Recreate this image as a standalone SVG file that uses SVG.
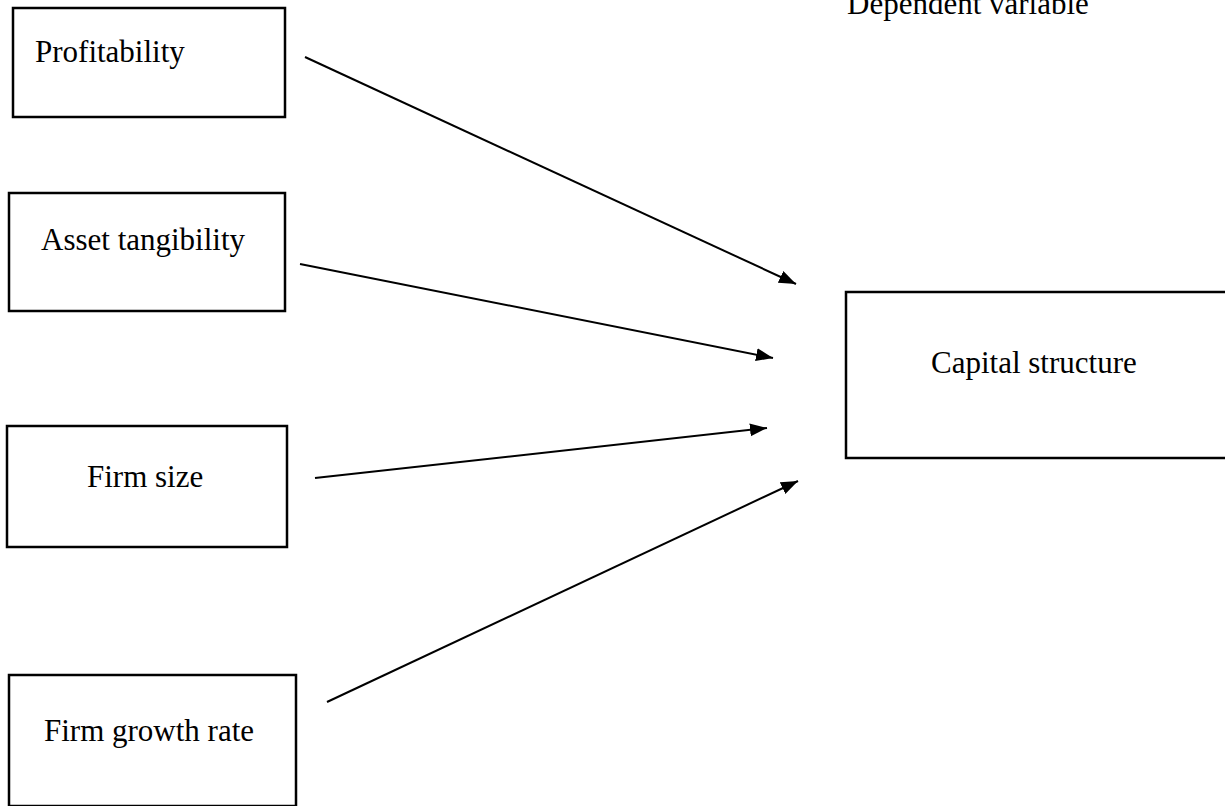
<svg xmlns="http://www.w3.org/2000/svg" width="1225" height="806" viewBox="0 0 1225 806">
<style>
.box{fill:#fff;stroke:#000;stroke-width:2.5}
.lbl{font-family:"Liberation Serif","Times New Roman",serif;font-size:31px;fill:#000}
.edge{stroke:#000;stroke-width:2;fill:none}
</style>
<defs>
<marker id="ah" markerUnits="userSpaceOnUse" markerWidth="18" markerHeight="14" refX="17" refY="6.5" orient="auto">
<path d="M0,0 L17,6.5 L0,13 Z" fill="#000"/>
</marker>
</defs>
<rect width="1225" height="806" fill="#fff"/>
<text class="lbl" x="847" y="14">Dependent variable</text>
<g id="profitability">
<rect class="box" x="13" y="8" width="272" height="109"/>
<text class="lbl" x="35" y="62">Profitability</text>
</g>
<g id="asset-tangibility">
<rect class="box" x="9" y="193" width="276" height="118"/>
<text class="lbl" x="41" y="250">Asset tangibility</text>
</g>
<g id="firm-size">
<rect class="box" x="7" y="426" width="280" height="121"/>
<text class="lbl" x="87" y="487">Firm size</text>
</g>
<g id="firm-growth-rate">
<rect class="box" x="9" y="675" width="287" height="131"/>
<text class="lbl" x="44" y="741">Firm growth rate</text>
</g>
<g id="capital-structure">
<rect class="box" x="846" y="292" width="382" height="166"/>
<text class="lbl" x="931" y="373">Capital structure</text>
</g>
<g id="connectors">
<line class="edge" x1="305" y1="57" x2="796" y2="284" marker-end="url(#ah)"/>
<line class="edge" x1="300" y1="264" x2="773" y2="358" marker-end="url(#ah)"/>
<line class="edge" x1="315" y1="478" x2="767" y2="428" marker-end="url(#ah)"/>
<line class="edge" x1="327" y1="702" x2="798" y2="481" marker-end="url(#ah)"/>
</g>
</svg>
